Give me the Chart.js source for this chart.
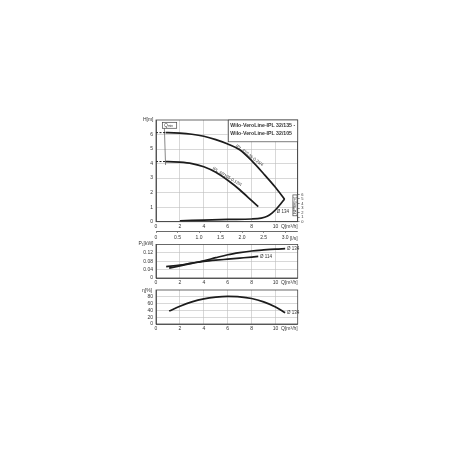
<!DOCTYPE html>
<html>
<head>
<meta charset="utf-8">
<script src="https://cdn.jsdelivr.net/npm/chart.js@4.4.1/dist/chart.umd.min.js"></script>
<style>
  html, body { margin: 0; padding: 0; background: #fff; }
  body { width: 450px; height: 450px; position: relative; overflow: hidden; }
  canvas { position: absolute; left: 120px; }
  #head { top: 110px; }
  #power { top: 238px; }
  #eff { top: 284px; }
</style>
</head>
<body>
<canvas id="head" width="200" height="135"></canvas>
<canvas id="power" width="200" height="50"></canvas>
<canvas id="eff" width="200" height="50"></canvas>
<script>
// flow axis (m3/h) and the l/s helper axis
const qMax = 11.85;
const qTicks = [0, 2, 4, 6, 8, 10];
const lsTicks = [0, 0.5, 1.0, 1.5, 2.0, 2.5, 3.0];

// head H [m]
const hTicks = [0, 1, 2, 3, 4, 5, 6];
const npshTicks = [0, 1, 2, 3, 4, 5, 6];
const q135 = [0.8, 1, 2, 3, 4, 5, 6, 7, 8, 9, 10, 10.75];
const h135 = [6.13, 6.13, 6.1, 6.02, 5.88, 5.65, 5.35, 4.95, 4.2, 3.3, 2.35, 1.55];
const q105 = [0.8, 1, 2, 3, 4, 5, 6, 7, 8, 8.55];
const h105 = [4.14, 4.14, 4.1, 4.0, 3.78, 3.4, 2.85, 2.2, 1.45, 1.03];
const qDash = [0, 0.8];
const qMinLine = [0.7, 0.8];
const hMinLine = [6.45, 3.9];
const qNpsh = [2, 4, 6, 8, 8.8, 9.3, 9.7, 10.1, 10.45, 10.75];
const npsh134 = [0.2, 0.35, 0.5, 0.6, 0.8, 1.2, 1.9, 2.9, 4.0, 5.0];

// power P1 [kW]
const pTicks = [0, 0.04, 0.08, 0.12];
const qP134 = [1.1, 2, 3, 4, 5, 6, 7, 8, 9, 10, 10.8];
const p134 = [0.047, 0.058, 0.07, 0.082, 0.097, 0.111, 0.121, 0.129, 0.134, 0.138, 0.14];
const qP114 = [0.85, 2, 3, 4, 5, 6, 7, 8, 8.55];
const p114 = [0.054, 0.062, 0.071, 0.079, 0.085, 0.09, 0.095, 0.1, 0.103];

// efficiency eta [%]
const etaTicks = [0, 20, 40, 60, 80];
const qEta = [1.1, 2, 3, 4, 5, 6, 7, 8, 9, 10, 10.8];
const eta134 = [38, 52, 65, 74, 79, 81, 80, 75, 65, 50, 33];

const gridColor = '#bdbdbd';
const axisColor = '#444';
const lineColor = '#1c1c1c';
const textColor = '#333';
const family = "'Liberation Sans Narrow', 'Liberation Sans', sans-serif";
const tickFont = { family: family, size: 5 };

function pts(xs, ys) {
  return xs.map((x, i) => ({ x: x, y: ys[i] }));
}

function curve(xs, ys, extra) {
  return Object.assign({
    data: pts(xs, ys),
    borderColor: lineColor,
    borderWidth: 1.7,
    pointRadius: 0,
    cubicInterpolationMode: 'monotone',
    fill: false,
  }, extra);
}

function fixTicks(values) {
  return (s) => { s.ticks = values.map(v => ({ value: v })); };
}

function qAxis(height) {
  return {
    type: 'linear', position: 'bottom', min: 0, max: qMax, weight: 0,
    afterBuildTicks: fixTicks(qTicks),
    afterFit: (s) => { s.height = height; },
    grid: { color: gridColor, lineWidth: 0.6, drawTicks: false },
    border: { color: axisColor, width: 0.8 },
    ticks: { font: tickFont, color: textColor, padding: 2, maxRotation: 0, autoSkip: false },
  };
}

function valueAxis(min, max, values, fmt) {
  return {
    type: 'linear', position: 'left', min: min, max: max,
    afterBuildTicks: fixTicks(values),
    afterFit: (s) => { s.width = 36; },
    grid: { color: gridColor, lineWidth: 0.6, drawTicks: false },
    border: { color: axisColor, width: 0.8 },
    ticks: { font: tickFont, color: textColor, padding: 3, autoSkip: false, callback: fmt },
  };
}

function txt(ctx, s, x, y, opt) {
  opt = opt || {};
  ctx.save();
  ctx.font = (opt.weight || 'normal') + ' ' + (opt.size || 5) + 'px ' + family;
  ctx.fillStyle = opt.color || textColor;
  ctx.textAlign = opt.align || 'left';
  ctx.textBaseline = opt.base || 'middle';
  ctx.translate(x, y);
  if (opt.rot) ctx.rotate(opt.rot * Math.PI / 180);
  if (opt.max) ctx.fillText(s, 0, 0, opt.max);
  else ctx.fillText(s, 0, 0);
  ctx.restore();
}

const frame = {
  id: 'frame',
  afterDatasetsDraw(chart) {
    const a = chart.chartArea, ctx = chart.ctx;
    ctx.save();
    ctx.strokeStyle = axisColor;
    ctx.lineWidth = 0.8;
    ctx.strokeRect(a.left, a.top, a.right - a.left, a.bottom - a.top);
    ctx.restore();
  }
};

function baseOptions(padding, scales) {
  return {
    responsive: false,
    animation: false,
    layout: { padding: padding },
    plugins: { legend: { display: false }, tooltip: { enabled: false } },
    scales: scales,
  };
}

// ---------- head chart ----------
const headNotes = {
  id: 'headNotes',
  afterDraw(chart) {
    const ctx = chart.ctx, a = chart.chartArea;
    const x = chart.scales.x, y = chart.scales.y, y2 = chart.scales.y2;
    ctx.save();
    ctx.lineWidth = 0.7;
    ctx.strokeStyle = axisColor;
    ctx.fillStyle = '#fff';

    // title box
    const bx = x.getPixelForValue(6.05), by = y.getPixelForValue(5.5);
    ctx.fillRect(bx, a.top, a.right - bx, by - a.top);
    ctx.strokeRect(bx, a.top, a.right - bx, by - a.top);
    txt(ctx, 'Wilo-VeroLine-IPL 32/135 -', bx + 2, a.top + 6, { weight: 'bold', size: 5.2, max: a.right - bx - 3 });
    txt(ctx, 'Wilo-VeroLine-IPL 32/105', bx + 2, a.top + 13.5, { weight: 'bold', size: 5.2, max: a.right - bx - 3 });

    // Qmin box
    const qx0 = x.getPixelForValue(0.53), qx1 = x.getPixelForValue(1.73);
    const qy0 = y.getPixelForValue(6.84), qy1 = y.getPixelForValue(6.43);
    ctx.fillRect(qx0, qy0, qx1 - qx0, qy1 - qy0);
    ctx.strokeRect(qx0, qy0, qx1 - qx0, qy1 - qy0);
    txt(ctx, 'Q', qx0 + 2, (qy0 + qy1) / 2, { size: 4.5 });
    txt(ctx, 'min', qx0 + 5.6, (qy0 + qy1) / 2 + 1, { size: 3.2 });

    // curve labels
    txt(ctx, 'IPL 32/135-0.25/4', x.getPixelForValue(7.82), y.getPixelForValue(4.56), { size: 4.2, align: 'center', rot: 37 });
    txt(ctx, 'IPL 32/105-0.12/4', x.getPixelForValue(5.94), y.getPixelForValue(3.1), { size: 4.2, align: 'center', rot: 31 });
    txt(ctx, '\u00d8 134', x.getPixelForValue(10.1), y.getPixelForValue(0.67), { size: 4.5 });

    // NPSH box
    const nx0 = x.getPixelForValue(11.45);
    const ny0 = y2.getPixelForValue(5.9), ny1 = y2.getPixelForValue(1.3);
    ctx.fillRect(nx0, ny0, a.right - nx0 - 0.6, ny1 - ny0);
    ctx.strokeRect(nx0, ny0, a.right - nx0 - 0.6, ny1 - ny0);
    txt(ctx, 'NPSH[m]', (nx0 + a.right) / 2, (ny0 + ny1) / 2, { size: 4, align: 'center', rot: -90 });

    // axis titles
    txt(ctx, 'H[m]', a.left - 2.5, a.top, { size: 5, align: 'right' });
    txt(ctx, 'Q[m\u00b3/h]', a.right, a.bottom + 4.5, { size: 5, align: 'right' });
    txt(ctx, '[l/s]', a.right, a.bottom + 17, { size: 5, align: 'right' });
    ctx.restore();
  }
};

new Chart(document.getElementById('head'), {
  type: 'line',
  data: {
    datasets: [
      curve(q135, h135),
      curve(q105, h105),
      curve(qDash, [h135[0], h135[0]], { borderWidth: 1, borderDash: [2, 1.5] }),
      curve(qDash, [h105[0], h105[0]], { borderWidth: 1, borderDash: [2, 1.5] }),
      curve(qMinLine, hMinLine, { borderWidth: 0.7, borderColor: '#555', cubicInterpolationMode: 'default' }),
      curve(qNpsh, npsh134, { yAxisID: 'y2' }),
    ]
  },
  options: baseOptions({ top: 10, left: 0, right: 0, bottom: 0 }, {
    x: qAxis(9.3),
    x2: {
      type: 'linear', position: 'bottom', min: 0, max: qMax / 3.6, weight: 1,
      afterBuildTicks: fixTicks(lsTicks),
      afterFit: (s) => { s.height = 14; },
      grid: { drawOnChartArea: false, drawTicks: true, tickLength: 2, color: axisColor, lineWidth: 0.6 },
      border: { color: axisColor, width: 0.8 },
      ticks: { font: tickFont, color: textColor, padding: 2, maxRotation: 0, autoSkip: false,
        callback: (v) => v === 0 ? '0' : v.toFixed(1) },
    },
    y: valueAxis(0, 7, hTicks, (v) => String(v)),
    y2: {
      type: 'linear', position: 'right', min: 0, max: 22.4,
      afterBuildTicks: fixTicks(npshTicks),
      afterFit: (s) => { s.width = 22.3; },
      grid: { drawOnChartArea: false, drawTicks: true, tickLength: 2, color: axisColor, lineWidth: 0.6 },
      border: { color: axisColor, width: 0.8 },
      ticks: { font: { family: family, size: 4 }, color: textColor, padding: 1.5, autoSkip: false },
    },
  }),
  plugins: [frame, headNotes],
});

// ---------- power chart ----------
const powerNotes = {
  id: 'powerNotes',
  afterDraw(chart) {
    const ctx = chart.ctx, a = chart.chartArea;
    const x = chart.scales.x, y = chart.scales.y;
    txt(ctx, '\u00d8 134', x.getPixelForValue(10.95), y.getPixelForValue(0.14), { size: 4.5 });
    txt(ctx, '\u00d8 114', x.getPixelForValue(8.7), y.getPixelForValue(0.103), { size: 4.5 });
    txt(ctx, 'P\u2081[kW]', a.left - 2.5, a.top - 0.5, { size: 5, align: 'right' });
    txt(ctx, 'Q[m\u00b3/h]', a.right, a.bottom + 4.5, { size: 5, align: 'right' });
  }
};

new Chart(document.getElementById('power'), {
  type: 'line',
  data: {
    datasets: [
      curve(qP134, p134),
      curve(qP114, p114),
    ]
  },
  options: baseOptions({ top: 6.5, left: 0, right: 22.3, bottom: 0 }, {
    x: qAxis(10),
    y: valueAxis(0, 0.16, pTicks, (v) => v === 0 ? '0' : v.toFixed(2)),
  }),
  plugins: [frame, powerNotes],
});

// ---------- efficiency chart ----------
const effNotes = {
  id: 'effNotes',
  afterDraw(chart) {
    const ctx = chart.ctx, a = chart.chartArea;
    const x = chart.scales.x, y = chart.scales.y;
    txt(ctx, '\u00d8 134', x.getPixelForValue(10.95), y.getPixelForValue(33), { size: 4.5 });
    txt(ctx, '\u03b7[%]', a.left - 4, a.top + 1, { size: 5, align: 'right' });
    txt(ctx, 'Q[m\u00b3/h]', a.right, a.bottom + 4.5, { size: 5, align: 'right' });
  }
};

new Chart(document.getElementById('eff'), {
  type: 'line',
  data: {
    datasets: [
      curve(qEta, eta134),
    ]
  },
  options: baseOptions({ top: 6, left: 0, right: 22.3, bottom: 0 }, {
    x: qAxis(10),
    y: valueAxis(0, 100, etaTicks, (v) => String(v)),
  }),
  plugins: [frame, effNotes],
});
</script>
</body>
</html>
